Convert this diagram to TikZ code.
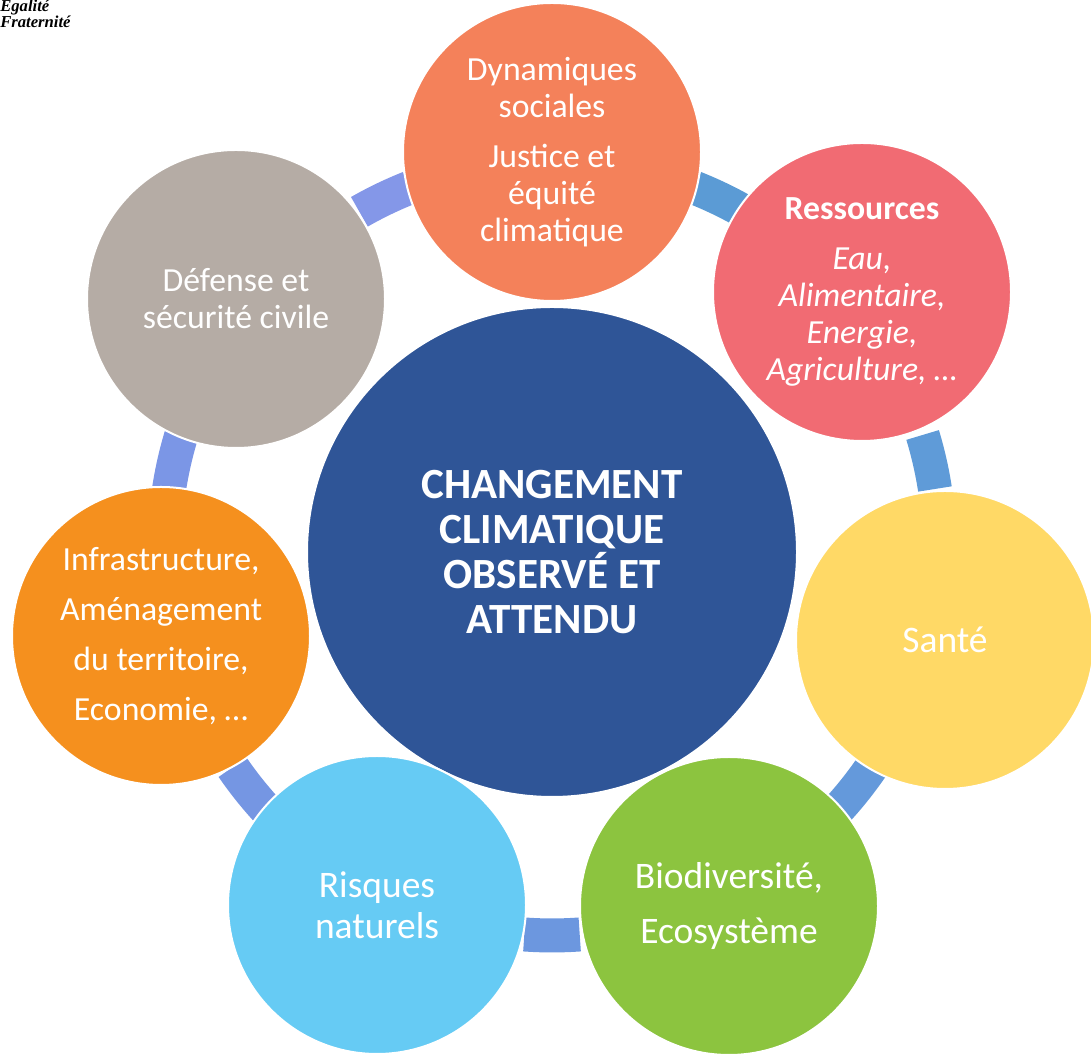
\documentclass[tikz,border=0pt]{standalone}
\usepackage{fontspec}
\setmainfont{Carlito}
\newfontfamily\logofont{Liberation Serif}
\definecolor{cMain}{HTML}{2F5597}
\definecolor{cTop}{HTML}{F4815A}
\definecolor{cRes}{HTML}{F16B73}
\definecolor{cSante}{HTML}{FFD966}
\definecolor{cBio}{HTML}{8CC43F}
\definecolor{cRisk}{HTML}{66CBF4}
\definecolor{cInfra}{HTML}{F5901E}
\definecolor{cDef}{HTML}{B5ACA5}
\definecolor{lA}{HTML}{5B9BD5}
\definecolor{lB}{HTML}{5F9BD8}
\definecolor{lC}{HTML}{6499DB}
\definecolor{lD}{HTML}{6C97DF}
\definecolor{lE}{HTML}{7596E3}
\definecolor{lF}{HTML}{7B96E6}
\definecolor{lG}{HTML}{8497E8}
\begin{document}
\begin{tikzpicture}[x=0.75pt,y=0.75pt,
  bubble/.style={circle, draw=white, line width=1.5pt, text=white, align=center, inner sep=0pt, minimum size=223.5pt},
  smalltxt/.style={font=\fontsize{25.3}{27.75}\selectfont},
  bigtxt/.style={font=\fontsize{28.1}{30.75}\selectfont},
  link/.style={line width=25.5pt, line cap=butt},
  logo/.style={font=\logofont\bfseries\itshape\fontsize{12.5}{13}\selectfont, inner sep=0pt, anchor=base west}]
\useasboundingbox (0,0) rectangle (1091,1055);
\coordinate (ringc) at (552,507);
% connectors (ring segments between neighbouring circles)
\foreach \m/\c [evaluate=\m as \a using \m+4.1, evaluate=\m as \b using \m-4.1] in
  {64.29/lA, 12.86/lB, -38.57/lC, -90/lD, -141.43/lE, 167.14/lF, 115.71/lG}
  \draw[link, draw=\c] ([shift={(\a:290.6pt)}]ringc) arc[start angle=\a, end angle=\b, radius=290.6pt];
% central circle
\node[bubble, fill=cMain, minimum size=367.5pt, font=\bfseries\fontsize{32.3}{33.75}\selectfont] (main) at (552,503)
  {CHANGEMENT\\CLIMATIQUE\\OBSERVÉ ET\\ATTENDU};
% outer circles
\node[bubble, smalltxt, fill=cTop] (social) at (552,903)
  {Dynamiques\\sociales\\[9.75pt]Justice et\\équité\\climatique};
\node[bubble, smalltxt, fill=cRes] (res) at (862,763)
  {\textbf{Ressources}\\[9.75pt]\textit{Eau,}\\\textit{Alimentaire,}\\\textit{Energie,}\\\textit{Agriculture, …}};
\node[bubble, bigtxt, fill=cSante] (sante) at (945,415) {Santé};
\node[bubble, bigtxt, fill=cBio] (bio) at (729,149)
  {Biodiversité,\\[10.5pt]Ecosystème};
\node[bubble, bigtxt, fill=cRisk] (risk) at (377,150) {Risques\\naturels};
\node[bubble, smalltxt, fill=cInfra] (infra) at (161,419)
  {Infrastructure,\\[9.75pt]Aménagement\\[9.75pt]du territoire,\\[9.75pt]Economie, …};
\node[bubble, smalltxt, fill=cDef] (def) at (236,756)
  {Défense et\\sécurité civile};
% logo remnants
\node[logo] (egal) at (0,1043) {Egalité};
\node[logo] (frat) at (0,1027) {Fraternité};
\end{tikzpicture}
\end{document}
